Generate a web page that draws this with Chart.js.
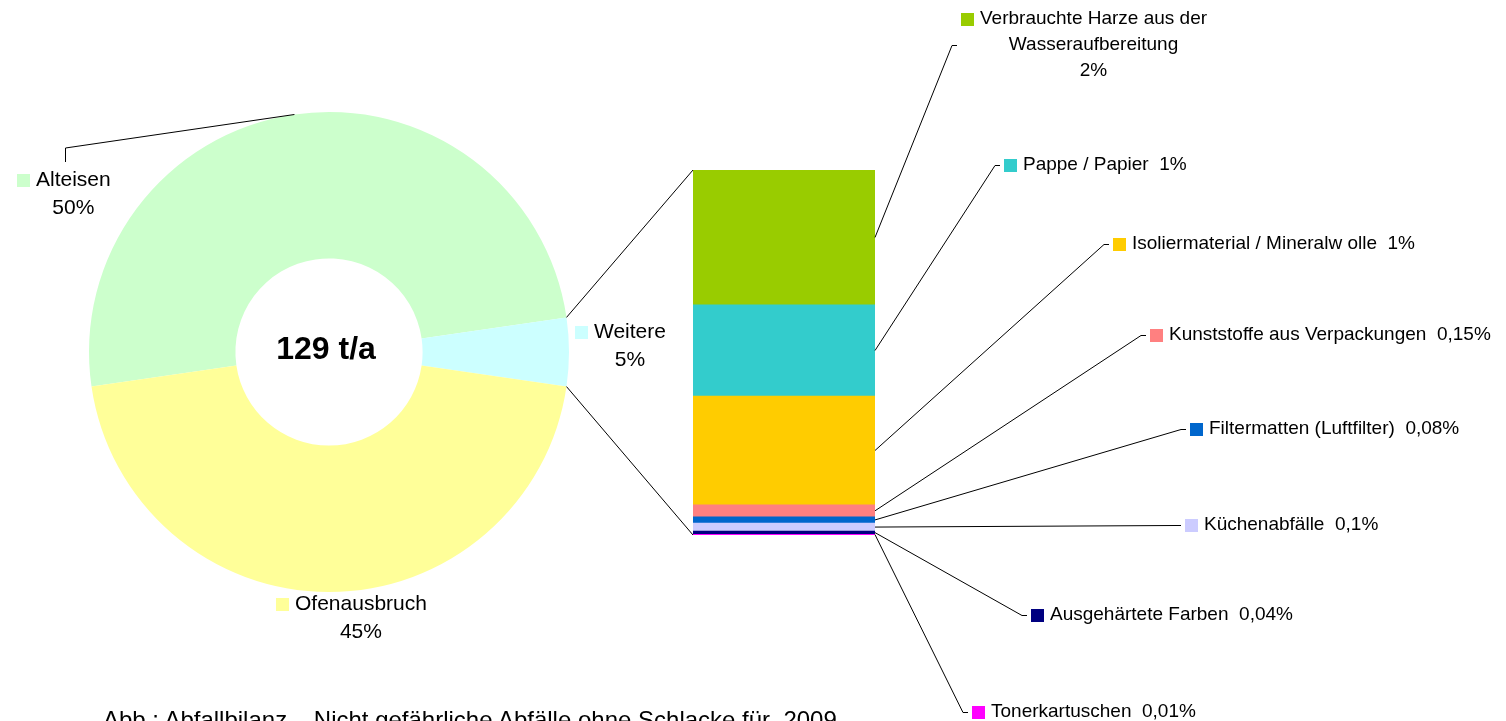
<!DOCTYPE html>
<html lang="de">
<head>
<meta charset="utf-8">
<title>Abfallbilanz 2009</title>
<script src="https://cdn.jsdelivr.net/npm/chart.js@4.4.1/dist/chart.umd.min.js"></script>
<style>
  html, body { margin: 0; padding: 0; background: #fff; overflow: hidden; }
  #wrap { position: relative; width: 1506px; height: 721px; overflow: hidden; }
  #wrap canvas { position: absolute; left: 0; top: 0; }
  #caption {
    position: absolute; left: 103px; top: 708px;
    font: 24px "Liberation Sans", Arial, sans-serif; line-height: 24px;
    white-space: pre; color: #000;
  }
</style>
</head>
<body>
<div id="wrap">
  <canvas id="pieChart" width="1506" height="721"></canvas>
  <canvas id="barChart" width="1506" height="721"></canvas>
  <div id="caption">Abb.: Abfallbilanz – Nicht gefährliche Abfälle ohne Schlacke für  2009</div>
</div>
<script>
// Anteile in % der Gesamtmenge
const totalTonnes = 129;
const pieLabels = ['Alteisen', 'Weitere', 'Ofenausbruch'];
const pieShares = [50.0, 4.6, 45.4];
const pieColors = ['#CCFFCC', '#CCFFFF', '#FFFF99'];

// Aufteilung von "Weitere" (von oben nach unten)
const detailLabels = [
  ['Verbrauchte Harze aus der', 'Wasseraufbereitung'],
  ['Pappe / Papier'],
  ['Isoliermaterial / Mineralw olle'],
  ['Kunststoffe aus Verpackungen'],
  ['Filtermatten (Luftfilter)'],
  ['Küchenabfälle'],
  ['Ausgehärtete Farben'],
  ['Tonerkartuschen']
];
const detailShares = [1.7, 1.15, 1.37, 0.15, 0.08, 0.1, 0.04, 0.01];
const detailColors = ['#99CC00', '#33CCCC', '#FFCC00', '#FF8080', '#0066CC', '#CCCCFF', '#000080', '#FF00FF'];

// Lage der Beschriftungen
const pieLabelSpots = [[17, 180], [575, 332], [276, 604]];
const alteisenElbow = [65, 148, 162];
const detailLabelSpots = [[957, 45], [1000, 165], [1109, 244], [1146, 335], [1186, 429], [1181, 525], [1027, 615], [968, 712]];
const multiLineDetail = [true, false, false, false, false, false, false, false];

const FONT = '"Liberation Sans", Arial, sans-serif';

function fmtPct(v) {
  if (v >= 1) return Math.round(v) + '%';
  return String(parseFloat(v.toFixed(2))).replace('.', ',') + '%';
}

function drawKeyLabel(ctx, lines, color, keyLeft, firstY, size, gap) {
  ctx.font = `${size}px ${FONT}`;
  const widths = lines.map(t => ctx.measureText(t).width);
  const cx = keyLeft + 19 + Math.max(...widths) / 2;
  ctx.fillStyle = color;
  ctx.fillRect(Math.round(cx - widths[0] / 2 - 19), Math.round(firstY - 6.5), 13, 13);
  ctx.fillStyle = '#000';
  ctx.textAlign = 'center';
  ctx.textBaseline = 'middle';
  lines.forEach((t, i) => ctx.fillText(t, cx, firstY + i * gap));
}

const pieLabelPlugin = {
  id: 'pieLabels',
  afterDraw(chart) {
    const ctx = chart.ctx;
    const arcs = chart.getDatasetMeta(0).data;
    ctx.save();

    ctx.font = `bold 32px ${FONT}`;
    ctx.fillStyle = '#000';
    ctx.textAlign = 'center';
    ctx.textBaseline = 'middle';
    ctx.fillText(`${totalTonnes} t/a`, arcs[0].x - 3, arcs[0].y - 2);

    // Fuehrungslinie Alteisen
    const a = arcs[0];
    const mid = (a.startAngle + a.endAngle) / 2;
    ctx.strokeStyle = '#000';
    ctx.lineWidth = 1;
    ctx.beginPath();
    ctx.moveTo(a.x + Math.cos(mid) * a.outerRadius, a.y + Math.sin(mid) * a.outerRadius);
    ctx.lineTo(alteisenElbow[0] + 0.5, alteisenElbow[1]);
    ctx.lineTo(alteisenElbow[0] + 0.5, alteisenElbow[2]);
    ctx.stroke();

    pieLabels.forEach((name, i) => {
      const [x, y] = pieLabelSpots[i];
      drawKeyLabel(ctx, [name, fmtPct(pieShares[i])], pieColors[i], x, y, 21, 28);
    });
    ctx.restore();
  }
};

const pieChart = new Chart(document.getElementById('pieChart'), {
  type: 'doughnut',
  data: {
    labels: pieLabels,
    datasets: [{
      data: pieShares,
      backgroundColor: pieColors,
      borderWidth: 0,
      hoverOffset: 0,
      offset: 0
    }]
  },
  options: {
    responsive: false,
    animation: false,
    events: [],
    cutout: '39%',
    // "Weitere" mittig nach rechts ausrichten
    rotation: 90 - 3.6 * (pieShares[0] + pieShares[1] / 2) / pieShares.reduce((s, v) => s + v, 0) * 100,
    layout: { padding: { left: 89, right: 937, top: 112, bottom: 129 } },
    plugins: { legend: { display: false }, tooltip: { enabled: false } }
  },
  plugins: [pieLabelPlugin]
});

const n = detailShares.length;

const barLabelPlugin = {
  id: 'barLabels',
  afterDraw(chart) {
    const ctx = chart.ctx;
    const bars = detailShares.map((v, i) => chart.getDatasetMeta(n - 1 - i).data[0]);
    const top = bars[0];
    const bottom = bars[n - 1];
    const left = top.x - top.width / 2;
    const right = top.x + top.width / 2;
    ctx.save();
    ctx.strokeStyle = '#000';
    ctx.lineWidth = 1;

    // Verbindung vom Segment "Weitere" zur Saeule
    const w = pieChart.getDatasetMeta(0).data[1];
    ctx.beginPath();
    ctx.moveTo(w.x + Math.cos(w.startAngle) * w.outerRadius, w.y + Math.sin(w.startAngle) * w.outerRadius);
    ctx.lineTo(left, top.y);
    ctx.moveTo(w.x + Math.cos(w.endAngle) * w.outerRadius, w.y + Math.sin(w.endAngle) * w.outerRadius);
    ctx.lineTo(left, bottom.base);
    ctx.stroke();

    detailLabels.forEach((lines, i) => {
      const b = bars[i];
      const [ax, ay] = detailLabelSpots[i];
      ctx.beginPath();
      ctx.moveTo(right, (b.y + b.base) / 2);
      ctx.lineTo(ax - 5, ay + 0.5);
      ctx.lineTo(ax, ay + 0.5);
      ctx.stroke();

      const pct = fmtPct(detailShares[i]);
      const text = multiLineDetail[i] ? [...lines, pct] : [lines.join(' ') + '  ' + pct];
      const firstY = ay - (text.length - 1) * 26 / 2;
      drawKeyLabel(ctx, text, detailColors[i], ax + 4, firstY, 19, 26);
    });
    ctx.restore();
  }
};

new Chart(document.getElementById('barChart'), {
  type: 'bar',
  data: {
    labels: [''],
    datasets: detailShares.map((v, i) => ({
      label: detailLabels[i].join(' '),
      data: [v],
      backgroundColor: detailColors[i],
      borderWidth: 0,
      barPercentage: 1,
      categoryPercentage: 1
    })).reverse()
  },
  options: {
    responsive: false,
    animation: false,
    events: [],
    layout: { padding: { left: 693, right: 631, top: 170, bottom: 186 } },
    scales: {
      x: { stacked: true, display: false },
      y: { stacked: true, display: false, min: 0, max: detailShares.reduce((s, v) => s + v, 0) }
    },
    plugins: { legend: { display: false }, tooltip: { enabled: false } }
  },
  plugins: [barLabelPlugin]
});
</script>
</body>
</html>
